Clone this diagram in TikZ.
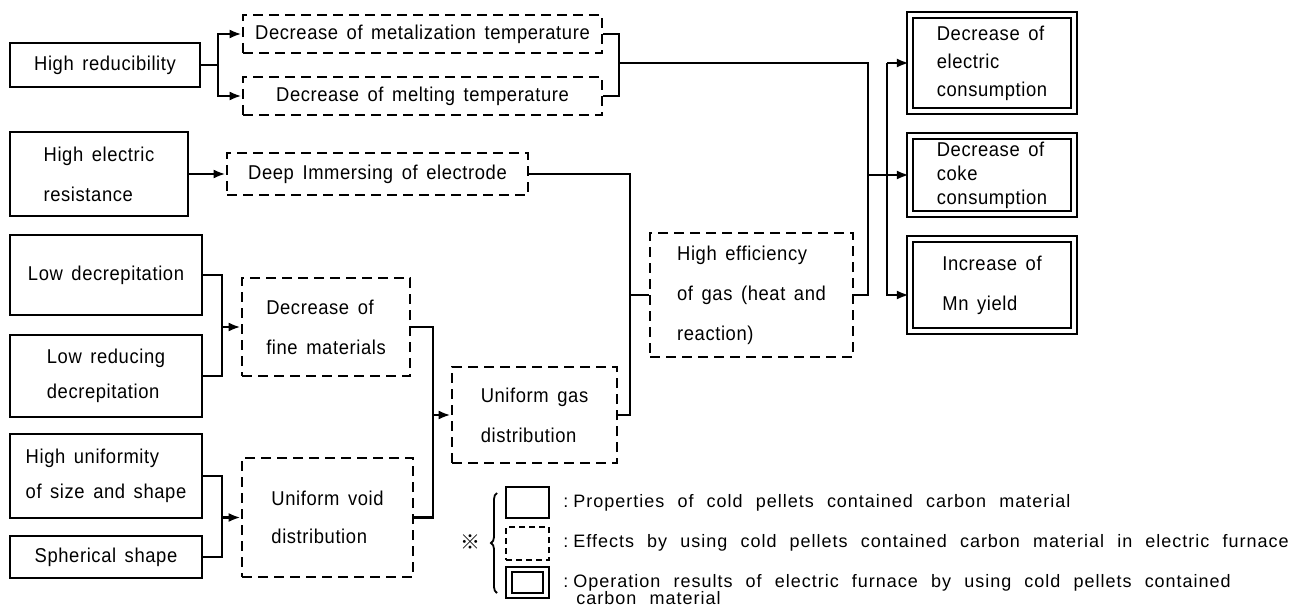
\documentclass[tikz,border=0pt]{standalone}
\usepackage{fontspec}
\setmainfont{Liberation Sans}[FakeStretch=0.92,LetterSpace=3,WordSpace=1.5]
\newfontfamily\legendfont{Liberation Sans}[LetterSpace=5.5,WordSpace=2.2]
\newfontfamily\cjk{Noto Sans CJK JP}
\usepackage{tikz}
\usetikzlibrary{arrows.meta,positioning,decorations.pathreplacing}

\begin{document}
\begin{tikzpicture}[x=1pt,y=-1pt,>={Latex[length=12pt,width=9pt]},line width=2.8pt,
  font=\fontsize{20}{21}\selectfont,
  prop/.style={draw,align=left,inner sep=0pt},
  effect/.style={draw,dash pattern=on 10pt off 6pt,align=left,inner sep=0pt},
  result/.style={draw,double,double distance=3.5pt,line width=2.2pt,align=left,inner sep=0pt},
  legend/.style={anchor=west,inner sep=0pt,align=left,font=\legendfont\fontsize{18}{17}\selectfont}]
  \useasboundingbox (0,0) rectangle (1305,612);
  % properties of the pellets
  \node[prop,minimum width=190,minimum height=44] (hr) at (105,65) {High reducibility};
  \node[prop,minimum width=178,minimum height=84] (her) at (99,174) {High electric\\[19pt]resistance};
  \node[prop,minimum width=192,minimum height=80] (ld) at (106,275) {Low decrepitation};
  \node[prop,minimum width=192,minimum height=82] (lrd) at (106,376) {Low reducing\\[14pt]decrepitation};
  \node[prop,minimum width=192,minimum height=84] (hu) at (106,476) {High uniformity\\[14pt]of size and shape};
  \node[prop,minimum width=192,minimum height=42] (sph) at (106,557) {Spherical shape};
  % effects in the furnace
  \node[effect,minimum width=359,minimum height=38] (met) at (422.5,34) {Decrease of metalization temperature};
  \node[effect,minimum width=359,minimum height=38] (mel) at (422.5,96) {Decrease of melting temperature};
  \node[effect,minimum width=301,minimum height=42] (dim) at (377.5,174) {Deep Immersing of electrode};
  \node[effect,minimum width=168,minimum height=98] (fine) at (326,327) {Decrease of\\[19pt]fine materials};
  \node[effect,minimum width=171,minimum height=119] (void) at (327.5,517.5) {Uniform void\\[17pt]distribution};
  \node[effect,minimum width=165,minimum height=96] (ugas) at (534.5,415) {Uniform gas\\[19pt]distribution};
  \node[effect,minimum width=203,minimum height=124] (heff) at (751.5,295) {High efficiency\\[19pt]of gas (heat and\\[19pt]reaction)};
  % operation results
  \node[result,minimum width=164,minimum height=96] (elec) at (992,63) {Decrease of\\[7pt]electric\\[7pt]consumption};
  \node[result,minimum width=164,minimum height=78] (coke) at (992,175) {Decrease of\\[3pt]coke\\[3pt]consumption};
  \node[result,minimum width=164,minimum height=92] (mn) at (992,285) {Increase of\\[19pt]Mn yield};
  % junctions
  \coordinate (b1) at (218,65);
  \coordinate (b2) at (619,63);
  \coordinate (c1) at (868,63);
  \coordinate (c2) at (887,63);
  \coordinate (d1) at (630,295);
  \coordinate (e1) at (222,327);
  \coordinate (e2) at (222,517.5);
  \coordinate (f1) at (433,415);
  \draw (hr) -- (b1);
  \draw[->] (b1) |- (met.west);
  \draw[->] (b1) |- (mel.west);
  \draw (met.east) -| (b2) |- (mel.east);
  \draw (b2) -- (c1) |- (heff.east);
  \draw[->] (c1 |- coke.west) -- (coke.west);
  \draw[->] (c2) -- (elec.west);
  \draw[->] (c2) |- (mn.west |- heff.east);
  \draw[->] (her) -- (dim);
  \draw (dim.east) -| (d1) -- (heff.west);
  \draw (ugas.east) -| (d1);
  \draw (ld.east) -| (e1);
  \draw (lrd.east) -| (e1);
  \draw[->] (e1) -- (fine.west);
  \draw (hu.east) -| (e2);
  \draw (sph.east) -| (e2);
  \draw[->] (e2) -- (void.west);
  \draw (fine.east) -| (f1);
  \draw (void.east) -| (f1);
  \draw[->] (f1) -- (ugas.west);
  % legend
  \node (mark) at (470,542) {\cjk ※};
  \draw[line width=1.8pt,decorate,decoration={brace,amplitude=6pt}] (497,593) -- (497,493);
  \node[prop,minimum width=43,minimum height=31] (lgprop) at (527.5,502.5) {};
  \node[effect,dash pattern=on 6pt off 4pt,minimum width=43,minimum height=33] (lgeff) at (527.5,543.5) {};
  \node[result,minimum width=37,minimum height=26] (lgres) at (527.5,582.5) {};
  \node[legend] (txprop) at (562,503) {:\hspace{5pt}Properties of cold pellets contained carbon material};
  \node[legend] (txeff) at (562,543) {:\hspace{5pt}Effects by using cold pellets contained carbon material in electric furnace};
  \node[legend] (txres) at (562,590) {:\hspace{5pt}Operation results of electric furnace by using cold pellets contained\\\hspace*{13pt}carbon material};
\end{tikzpicture}
\end{document}
